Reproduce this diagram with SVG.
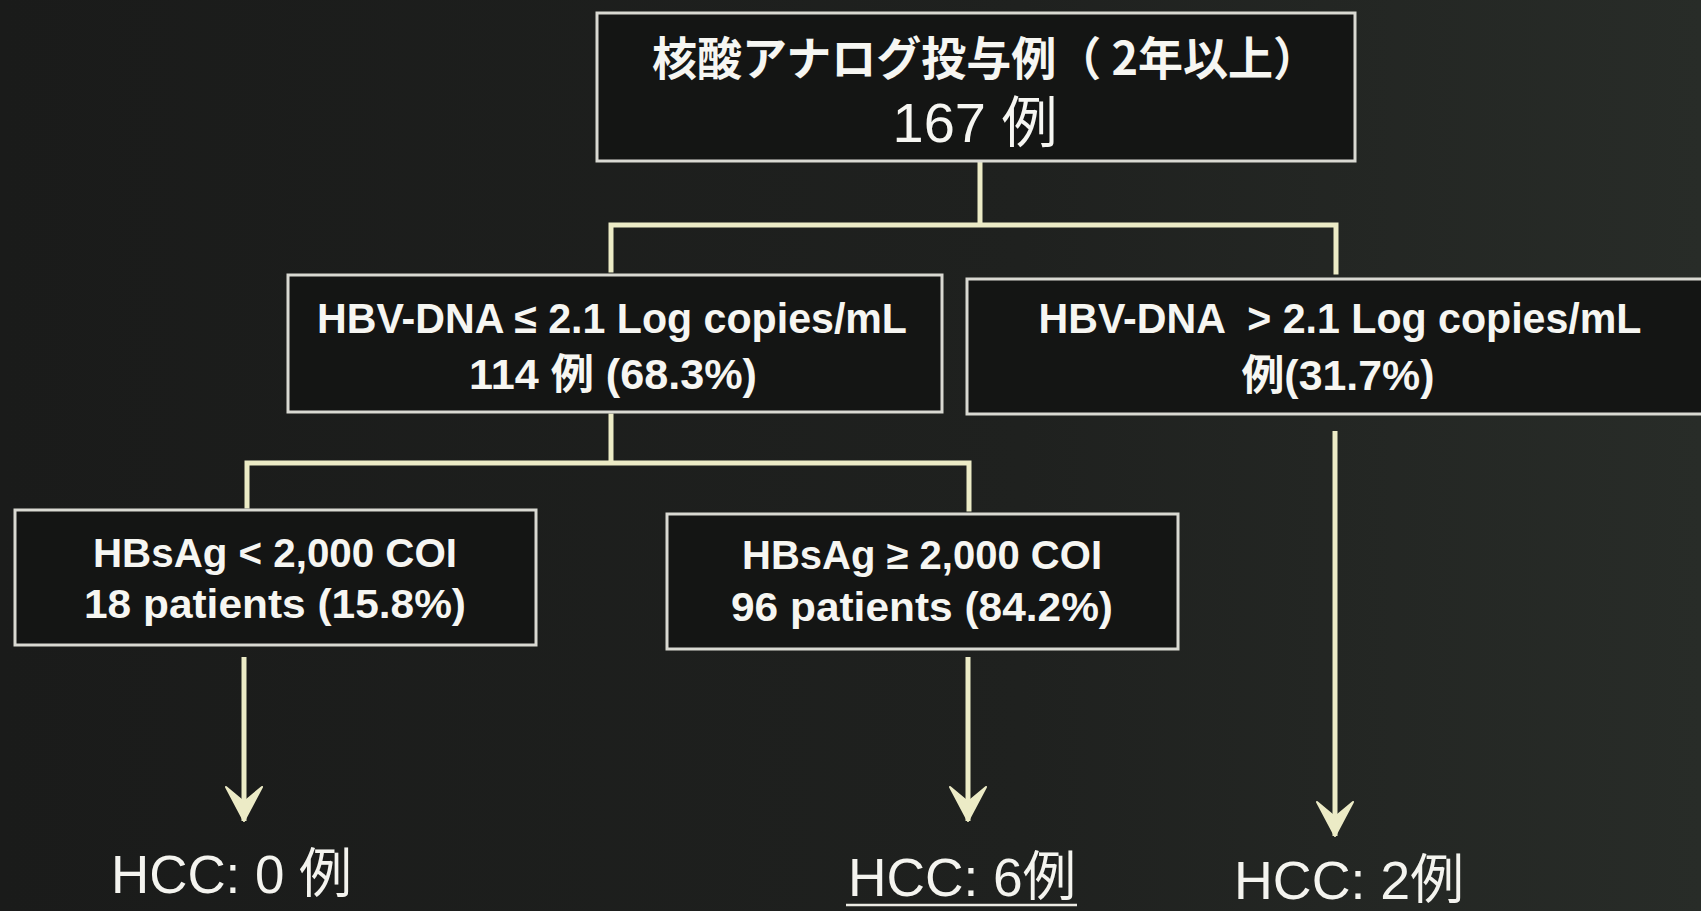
<svg xmlns="http://www.w3.org/2000/svg" width="1701" height="911" viewBox="0 0 1701 911">
  <defs>
    <linearGradient id="bg" x1="0" y1="0" x2="1" y2="0">
      <stop offset="0" stop-color="#1a1b1a"/>
      <stop offset="0.6" stop-color="#1f211f"/>
      <stop offset="1" stop-color="#282c28"/>
    </linearGradient>
    <marker id="arrow" markerUnits="userSpaceOnUse" markerWidth="44" markerHeight="44" viewBox="-38 -22 44 44" refX="0" refY="0" orient="auto">
      <path d="M0,0 L-34,-18 L-19,0 L-34,18 Z" fill="#ecebc6" stroke="#ecebc6" stroke-width="2" stroke-linejoin="round"/>
    </marker>
    <style>
      .box { fill: #141514; stroke: #d9d9d2; stroke-width: 3; }
      .conn { fill: none; stroke: #ecebc6; stroke-width: 5; stroke-linecap: square; }
      .arr { fill: none; stroke: #ecebc6; stroke-width: 5; }
      .bt { font-family: "Liberation Sans", "Noto Sans CJK JP", sans-serif; font-weight: 700; fill: #f6f6f2; text-anchor: middle; white-space: pre; }
      .jp { font-family: "Noto Sans CJK JP", "Liberation Sans", sans-serif; font-weight: 700; fill: #f6f6f2; text-anchor: middle; }
      .rt { font-family: "Liberation Sans", "Noto Sans CJK JP", sans-serif; font-weight: 400; fill: #f6f6f2; text-anchor: middle; }
      .hcc { font-family: "Liberation Sans", "Noto Sans CJK JP", sans-serif; font-weight: 400; fill: #f4f4ef; }
    </style>
  </defs>

  <rect x="0" y="0" width="1701" height="911" fill="url(#bg)"/>

  <g id="connectors">
    <path class="conn" d="M980,164 V225 M611,225 H1336 M611,225 V270 M1336,225 V272"/>
    <path class="conn" d="M611,416 V463 M247,463 H969 M247,463 V506 M969,463 V509"/>
    <line class="arr" x1="244" y1="657" x2="244" y2="821" marker-end="url(#arrow)"/>
    <line class="arr" x1="968" y1="657" x2="968" y2="821" marker-end="url(#arrow)"/>
    <line class="arr" x1="1335" y1="431" x2="1335" y2="836" marker-end="url(#arrow)"/>
  </g>

  <g id="node-top">
    <rect class="box" x="597" y="13" width="758" height="148"/>
    <text class="jp" x="985" y="75" font-size="46" textLength="666" lengthAdjust="spacingAndGlyphs">核酸アナログ投与例（ 2年以上）</text>
    <text class="rt" x="975" y="142" font-size="56" textLength="165" lengthAdjust="spacingAndGlyphs">167 例</text>
  </g>

  <g id="node-dna-low">
    <rect class="box" x="288" y="275" width="654" height="137"/>
    <text class="bt" x="612" y="333" font-size="42" textLength="590" lengthAdjust="spacingAndGlyphs">HBV-DNA ≤ 2.1 Log copies/mL</text>
    <text class="bt" x="613" y="389" font-size="42" textLength="288" lengthAdjust="spacingAndGlyphs">114 例 (68.3%)</text>
  </g>

  <g id="node-dna-high">
    <rect class="box" x="967" y="279" width="760" height="135"/>
    <text class="bt" x="1340" y="333" font-size="42" textLength="603" lengthAdjust="spacingAndGlyphs" xml:space="preserve">HBV-DNA  &gt; 2.1 Log copies/mL</text>
    <text class="bt" x="1338" y="390" font-size="42" textLength="193" lengthAdjust="spacingAndGlyphs">例(31.7%)</text>
  </g>

  <g id="node-hbsag-low">
    <rect class="box" x="15" y="510" width="521" height="135"/>
    <text class="bt" x="275" y="567" font-size="40" textLength="364" lengthAdjust="spacingAndGlyphs">HBsAg &lt; 2,000 COI</text>
    <text class="bt" x="275" y="618" font-size="40" textLength="382" lengthAdjust="spacingAndGlyphs">18 patients (15.8%)</text>
  </g>

  <g id="node-hbsag-high">
    <rect class="box" x="667" y="514" width="511" height="135"/>
    <text class="bt" x="922" y="569" font-size="40" textLength="360" lengthAdjust="spacingAndGlyphs">HBsAg ≥ 2,000 COI</text>
    <text class="bt" x="922" y="621" font-size="40" textLength="382" lengthAdjust="spacingAndGlyphs">96 patients (84.2%)</text>
  </g>

  <g id="result-0">
    <text class="hcc" x="111" y="893" font-size="54" textLength="241" lengthAdjust="spacingAndGlyphs">HCC: 0 例</text>
  </g>
  <g id="result-6">
    <text class="hcc" x="848" y="896" font-size="54" textLength="228" lengthAdjust="spacingAndGlyphs">HCC: 6例</text>
    <line x1="846" y1="905" x2="1077" y2="905" stroke="#ecebe4" stroke-width="2.5"/>
  </g>
  <g id="result-2">
    <text class="hcc" x="1234" y="899" font-size="54" textLength="230" lengthAdjust="spacingAndGlyphs">HCC: 2例</text>
  </g>
</svg>
